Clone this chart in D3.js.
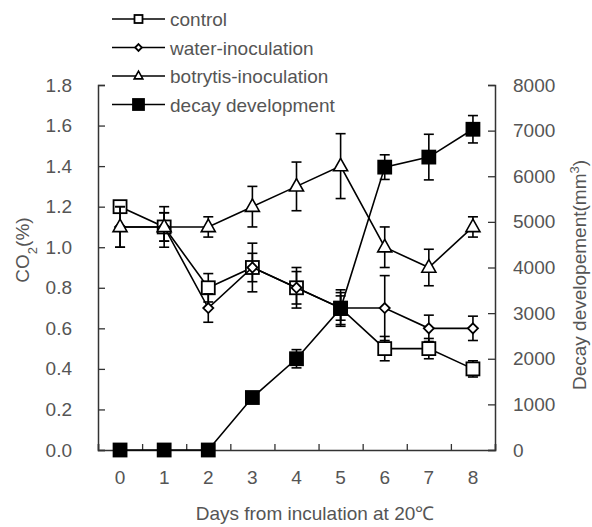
<!DOCTYPE html>
<html>
<head>
<meta charset="utf-8">
<script src="https://cdn.jsdelivr.net/npm/d3@7"></script>
<style>
  body { margin: 0; background: #fff; }
  text { font-family: "Liberation Sans", Arial, sans-serif; }
</style>
</head>
<body>
<div id="graph"></div>
<script>
const width = 592;
const height = 527;

// data
const days = [0, 1, 2, 3, 4, 5, 6, 7, 8];
const control = [1.2, 1.1, 0.8, 0.9, 0.8, 0.7, 0.5, 0.5, 0.4];
const controlErr = [0.02, 0.07, 0.07, 0.07, 0.08, 0.06, 0.06, 0.05, 0.04];
const water = [1.1, 1.1, 0.7, 0.9, 0.8, 0.7, 0.7, 0.6, 0.6];
const waterErr = [0.1, 0.1, 0.07, 0.12, 0.1, 0.09, 0.16, 0.065, 0.06];
const botrytis = [1.1, 1.1, 1.1, 1.2, 1.3, 1.4, 1.0, 0.9, 1.1];
const botrytisErr = [0.1, 0.07, 0.05, 0.1, 0.12, 0.16, 0.1, 0.09, 0.05];
const decay = [0, 0, 0, 1150, 2000, 3100, 6200, 6420, 7030];
const decayErr = [0, 0, 0, 0, 200, 350, 270, 500, 300];

const leftTicks = [0, 0.2, 0.4, 0.6, 0.8, 1.0, 1.2, 1.4, 1.6, 1.8];
const rightTicks = [0, 1000, 2000, 3000, 4000, 5000, 6000, 7000, 8000];

const series = [
  { name: "control", vals: control, err: controlErr, axis: "left", shape: "square", fill: "#fff" },
  { name: "water-inoculation", vals: water, err: waterErr, axis: "left", shape: "diamond", fill: "#fff" },
  { name: "botrytis-inoculation", vals: botrytis, err: botrytisErr, axis: "left", shape: "triangle", fill: "#fff" },
  { name: "decay development", vals: decay, err: decayErr, axis: "right", shape: "square", fill: "#000" }
];

const plot = { left: 98, right: 495, top: 85, bottom: 450 };
const fontSize = "19px";

const svg = d3.select("#graph")
  .append("svg")
  .attr("width", width)
  .attr("height", height)
  .style("background", "#fff");

const x = d3.scaleLinear().domain([-0.5, 8.5]).range([plot.left, plot.right]);
const yL = d3.scaleLinear().domain([0, 1.8]).range([plot.bottom, plot.top]);
const yR = d3.scaleLinear().domain([0, 8000]).range([plot.bottom, plot.top]);

const axisColor = "#333";
const labelColor = "#555";

// left axis, ticks point inward
const gL = svg.append("g")
  .attr("transform", `translate(${plot.left},0)`)
  .call(d3.axisRight(yL).tickValues(leftTicks).tickSize(7).tickFormat(d3.format(".1f")));
gL.select(".domain").attr("stroke", axisColor).attr("stroke-width", 1.5);
gL.selectAll(".tick line").attr("stroke", axisColor).attr("stroke-width", 1.3);
gL.selectAll(".tick text")
  .attr("x", -26)
  .attr("text-anchor", "end")
  .attr("fill", labelColor)
  .style("font-size", fontSize);

// right axis
const gR = svg.append("g")
  .attr("transform", `translate(${plot.right},0)`)
  .call(d3.axisLeft(yR).tickValues(rightTicks).tickSize(7).tickFormat(d3.format("d")));
gR.select(".domain").attr("stroke", axisColor).attr("stroke-width", 1.5);
gR.selectAll(".tick line").attr("stroke", axisColor).attr("stroke-width", 1.3);
gR.selectAll(".tick text")
  .attr("x", 18)
  .attr("text-anchor", "start")
  .attr("fill", labelColor)
  .style("font-size", fontSize);

// bottom axis: tick marks between categories, labels at categories
const gB = svg.append("g")
  .attr("transform", `translate(0,${plot.bottom})`)
  .call(d3.axisTop(x).tickValues(d3.range(-0.5, 9, 1)).tickSize(6).tickFormat(""));
gB.select(".domain").attr("stroke", axisColor).attr("stroke-width", 1.5);
gB.selectAll(".tick line").attr("stroke", axisColor).attr("stroke-width", 1.3);

svg.append("g")
  .selectAll("text")
  .data(days)
  .join("text")
  .attr("x", d => x(d))
  .attr("y", plot.bottom + 34)
  .attr("text-anchor", "middle")
  .attr("fill", labelColor)
  .style("font-size", fontSize)
  .text(d => d);

// axis titles
svg.append("text")
  .attr("x", 315)
  .attr("y", 520)
  .attr("text-anchor", "middle")
  .attr("fill", labelColor)
  .style("font-size", fontSize)
  .text("Days from inculation at 20℃");

const tl = svg.append("text")
  .attr("transform", `translate(29,250) rotate(-90)`)
  .attr("text-anchor", "middle")
  .attr("fill", labelColor)
  .style("font-size", fontSize);
tl.append("tspan").text("CO");
tl.append("tspan").text("2").attr("baseline-shift", "sub").style("font-size", "13px");
tl.append("tspan").text("(%)");

const tr = svg.append("text")
  .attr("transform", `translate(586,275) rotate(-90)`)
  .attr("text-anchor", "middle")
  .attr("fill", labelColor)
  .style("font-size", fontSize);
tr.append("tspan").text("Decay developement(mm");
tr.append("tspan").text("3").attr("baseline-shift", "super").style("font-size", "13px");
tr.append("tspan").text(")");

function marker(g, shape, fill, cx, cy, s) {
  if (shape === "square") {
    g.append("rect")
      .attr("x", cx - s / 2).attr("y", cy - s / 2)
      .attr("width", s).attr("height", s)
      .attr("fill", fill).attr("stroke", "#000").attr("stroke-width", 1.8);
  } else if (shape === "diamond") {
    const r = s * 0.42;
    g.append("path")
      .attr("d", `M${cx},${cy - r}L${cx + r},${cy}L${cx},${cy + r}L${cx - r},${cy}Z`)
      .attr("fill", fill).attr("stroke", "#000").attr("stroke-width", 1.8);
  } else if (shape === "triangle") {
    const r = s * 0.6;
    g.append("path")
      .attr("d", `M${cx},${cy - r}L${cx + r * 0.9},${cy + r * 0.6}L${cx - r * 0.9},${cy + r * 0.6}Z`)
      .attr("fill", fill).attr("stroke", "#000").attr("stroke-width", 1.6);
  }
}

const line = d3.line();

series.forEach(s => {
  const y = s.axis === "left" ? yL : yR;
  const g = svg.append("g");
  g.append("path")
    .attr("d", line(days.map((d, i) => [x(d), y(s.vals[i])])))
    .attr("fill", "none")
    .attr("stroke", "#000")
    .attr("stroke-width", 1.6);

  days.forEach((d, i) => {
    const e = s.err[i];
    if (e > 0) {
      const cx = x(d);
      const y1 = y(s.vals[i] + e), y2 = y(Math.max(0, s.vals[i] - e));
      g.append("line").attr("x1", cx).attr("x2", cx).attr("y1", y1).attr("y2", y2)
        .attr("stroke", "#000").attr("stroke-width", 1.6);
      [y1, y2].forEach(yy => {
        g.append("line").attr("x1", cx - 5).attr("x2", cx + 5).attr("y1", yy).attr("y2", yy)
          .attr("stroke", "#000").attr("stroke-width", 1.6);
      });
    }
  });

  days.forEach((d, i) => {
    marker(g, s.shape, s.fill, x(d), y(s.vals[i]), s.shape === "diamond" ? 12 : 13);
  });
});

// legend
const legend = svg.append("g");
series.forEach((s, i) => {
  const ly = 19 + i * 28.5;
  legend.append("line")
    .attr("x1", 112).attr("x2", 165).attr("y1", ly).attr("y2", ly)
    .attr("stroke", "#000").attr("stroke-width", 1.6);
  const size = s.fill === "#000" ? 11 : 8;
  marker(legend, s.shape, s.fill, 138.5, ly, size);
  legend.append("text")
    .attr("x", 170)
    .attr("y", ly + 7)
    .attr("fill", labelColor)
    .style("font-size", fontSize)
    .text(s.name);
});
</script>
</body>
</html>
